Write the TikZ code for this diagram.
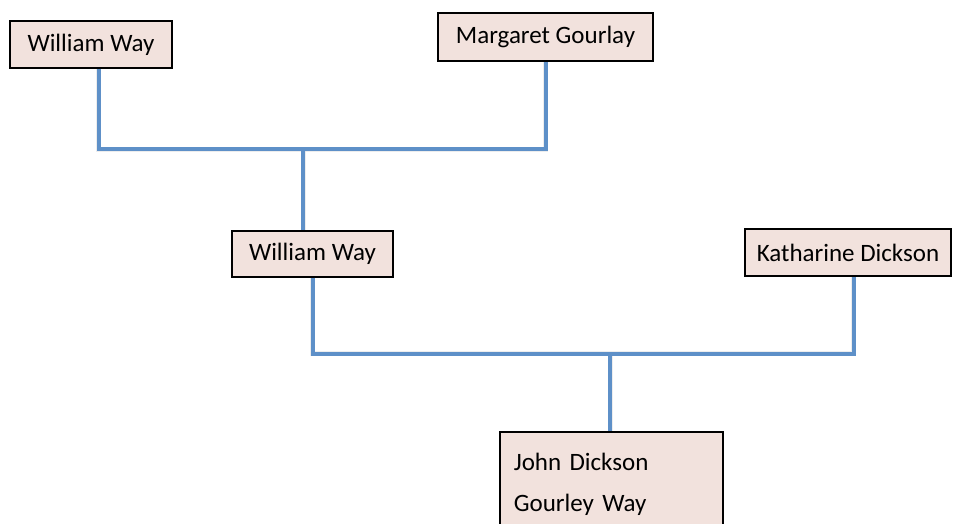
\documentclass[tikz,border=0pt]{standalone}
\usepackage{fontspec}
\setmainfont{Carlito}
\definecolor{boxfill}{HTML}{F2E2DD}
\definecolor{linkblue}{HTML}{5E90C8}
\tikzset{
  person/.style={draw=black, line width=1.6pt, fill=boxfill, rectangle,
    inner sep=0pt, font=\fontsize{25}{41}\selectfont, text=black},
  link/.style={draw=linkblue, line width=4pt, line join=miter},
  linkshade/.style={draw=black!14, line width=5pt, line join=miter, opacity=0.5}
}
\begin{document}
\begin{tikzpicture}[x=1pt,y=-1pt]
  \useasboundingbox (0,0) rectangle (953,523);

  % family members
  \node[person, minimum width=162pt, minimum height=47pt] (ww1) at (91,44.5) {William Way};
  \node[person, minimum width=215pt, minimum height=48pt] (mg)  at (545.5,37) {Margaret Gourlay};
  \node[person, minimum width=161pt, minimum height=46pt] (ww2) at (312.5,254) {William Way};
  \node[person, minimum width=206pt, minimum height=47pt] (kd)  at (848,252.5) {Katharine Dickson};
  \node[person, anchor=north west, minimum width=223pt, text width=195pt,
        align=left, inner xsep=14pt, inner ysep=21pt] (jd) at (499,431)
        {John Dickson\\Gourley Way};

  % junction points of the couples' lines
  \coordinate (c1) at (303,149);
  \coordinate (c2) at (610,353.5);
  \coordinate (a1) at (98.5,0);
  \coordinate (a2) at (853.5,0);

  % soft shadow under the connectors
  \begin{scope}[shift={(1.5,2)}]
    \draw[linkshade] (ww1.south -| a1) |- (c1) -| (mg.south);
    \draw[linkshade] (c1) -- (c1 |- ww2.north);
    \draw[linkshade] (ww2.south) |- (c2) -| (kd.south -| a2);
    \draw[linkshade] (c2) -- (c2 |- jd.north);
  \end{scope}

  % connectors
  \draw[link] (ww1.south -| a1) |- (c1) -| (mg.south);
  \draw[link] (c1) -- (c1 |- ww2.north);
  \draw[link] (ww2.south) |- (c2) -| (kd.south -| a2);
  \draw[link] (c2) -- (c2 |- jd.north);
\end{tikzpicture}
\end{document}
